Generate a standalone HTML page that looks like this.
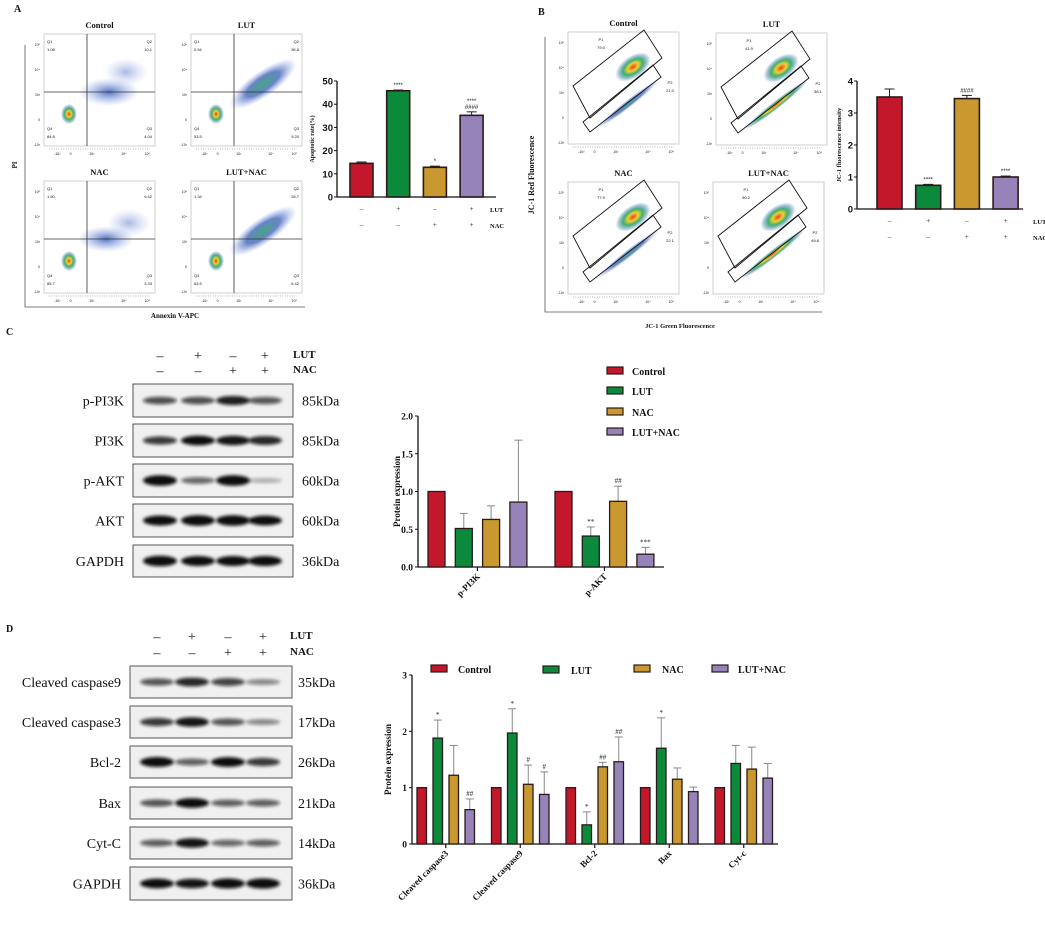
<!DOCTYPE html>
<html><head><meta charset="utf-8"><style>
html,body{margin:0;padding:0;background:#fff;}
svg{display:block;font-family:"Liberation Serif",serif;}
.sans{font-family:"Liberation Sans",sans-serif;}
</style></head><body>
<svg id="fig" width="1045" height="928" viewBox="0 0 1045 928" xmlns="http://www.w3.org/2000/svg">
<defs>
<filter id="blur2" x="-50%" y="-50%" width="200%" height="200%"><feGaussianBlur stdDeviation="1.6"/></filter>
<radialGradient id="hot"><stop offset="0" stop-color="#e8402a"/><stop offset="0.3" stop-color="#f0d030"/><stop offset="0.55" stop-color="#40b070"/><stop offset="1" stop-color="#3060c0" stop-opacity="0"/></radialGradient>
<radialGradient id="cloud"><stop offset="0" stop-color="#2a50b0" stop-opacity="0.8"/><stop offset="1" stop-color="#7090e0" stop-opacity="0"/></radialGradient>
<radialGradient id="cloudg"><stop offset="0" stop-color="#30a070" stop-opacity="0.9"/><stop offset="0.5" stop-color="#2a50b0" stop-opacity="0.7"/><stop offset="1" stop-color="#7090e0" stop-opacity="0"/></radialGradient>
</defs>
<g id="root"></g>
</svg>
<script>
// ---------- data ----------
var groups = ["Control","LUT","NAC","LUT+NAC"];
var colors = ["#c3172b","#0b8a3b","#c9982f","#9583b9"];
var apoptosisValues = [14.5, 45.8, 12.8, 35.2];
var apoptosisErr = [0.6, 0.3, 0.5, 1.5];
var apoptosisSig = ["","****","*","****\n####"];
var apoptosisTicks = [0,10,20,30,40,50];
var jc1Values = [3.5, 0.74, 3.45, 1.0];
var jc1Err = [0.25, 0.03, 0.1, 0.03];
var jc1Sig = ["","****","####","****"];
var jc1Ticks = [0,1,2,3,4];
var lutSigns = ["–","+","–","+"];
var nacSigns = ["–","–","+","+"];
var pi3kCats = ["p-PI3K","p-AKT"];
var pi3kValues = [[1,0.51,0.63,0.86],[1,0.41,0.87,0.17]];
var pi3kErr = [[0,0.20,0.18,0.82],[0,0.12,0.20,0.09]];
var pi3kSig = [["","","",""],["","**","##","***"]];
var pi3kTicks = [0,0.5,1.0,1.5,2.0];
var apoCats = ["Cleaved caspase3","Cleaved caspase9","Bcl-2","Bax","Cyt-c"];
var apoValues = [[1,1.88,1.22,0.61],[1,1.97,1.06,0.88],[1,0.34,1.37,1.46],[1,1.70,1.15,0.93],[1,1.43,1.33,1.17]];
var apoErr = [[0,0.32,0.53,0.19],[0,0.43,0.34,0.40],[0,0.23,0.08,0.44],[0,0.54,0.20,0.08],[0,0.32,0.39,0.26]];
var apoSig = [["","*","","##"],["","*","#","#"],["","*","##","##"],["","*","",""],["","","",""]];
var apoTicks = [0,1,2,3];

var NS="http://www.w3.org/2000/svg";
var root=document.getElementById("root");
function el(tag,attrs,parent,text){var e=document.createElementNS(NS,tag);for(var k in attrs)e.setAttribute(k,attrs[k]);if(text!==undefined)e.textContent=text;(parent||root).appendChild(e);return e;}
function txt(x,y,s,size,opt,parent){opt=opt||{};var a={x:x,y:y,"font-size":size,fill:opt.fill||"#111"};if(opt.anchor)a["text-anchor"]=opt.anchor;if(opt.bold)a["font-weight"]="bold";if(opt.cls)a["class"]=opt.cls;if(opt.tr)a.transform=opt.tr;return el("text",a,parent,s);}

[["A",14,12],["B",538,15],["C",6,335],["D",6,632]].forEach(function(p){var t=txt(p[1],p[2],p[0],10,{bold:true});

});

// ---------- flow plots ----------
function flowPlot(x,y,title,kind,labels,variant){
  var g=el("g",{});
  
  
  var w=111,h=112;
  txt(x+w/2,y-6,title,8.5,{anchor:"middle",bold:true},g);
  el("rect",{x:x,y:y,width:w,height:h,fill:"#fff",stroke:"#bbb","stroke-width":0.7},g);
  var yt=["10⁵","10⁴","10³","0","-10³"];
  yt.forEach(function(s,i){txt(x-4,y+12+i*25,s,3.5,{anchor:"end",cls:"sans"},g);});
  var xt=["-10³","0","10³","10⁴","10⁵"];var xs=[0.12,0.24,0.43,0.72,0.93];
  xt.forEach(function(s,i){txt(x+w*xs[i],y+h+9,s,3.5,{anchor:"middle",cls:"sans"},g);});
  el("line",{x1:x+5,y1:y+h+3,x2:x+w-5,y2:y+h+3,stroke:"#444","stroke-width":0.6,"stroke-dasharray":"0.8 1.6"},g);
  if(kind==="annexin"){
    var cx=x+43,cy=y+58;
    if(variant===0){el("ellipse",{cx:x+65,cy:y+58,rx:30,ry:14,fill:"url(#cloud)"},g);el("ellipse",{cx:x+82,cy:y+38,rx:22,ry:14,fill:"url(#cloud)",opacity:0.5},g);}
    if(variant===1||variant===3){el("ellipse",{cx:x+72,cy:y+50,rx:40,ry:13,fill:"url(#cloudg)",transform:"rotate(-35 "+(x+72)+" "+(y+50)+")"},g);}
    if(variant===2){el("ellipse",{cx:x+62,cy:y+58,rx:28,ry:13,fill:"url(#cloud)"},g);el("ellipse",{cx:x+85,cy:y+42,rx:22,ry:14,fill:"url(#cloud)",opacity:0.5},g);}
    el("ellipse",{cx:x+25,cy:y+80,rx:8,ry:10,fill:"url(#hot)"},g);
    el("line",{x1:cx,y1:y,x2:cx,y2:y+h,stroke:"#333","stroke-width":0.8},g);
    el("line",{x1:x,y1:cy,x2:x+w,y2:cy,stroke:"#333","stroke-width":0.8},g);
    txt(x+3,y+9,"Q1",4,{cls:"sans"},g);txt(x+3,y+17,labels[0],4,{cls:"sans"},g);
    txt(x+w-3,y+9,"Q2",4,{anchor:"end",cls:"sans"},g);txt(x+w-3,y+17,labels[1],4,{anchor:"end",cls:"sans"},g);
    txt(x+3,y+96,"Q4",4,{cls:"sans"},g);txt(x+3,y+104,labels[3],4,{cls:"sans"},g);
    txt(x+w-3,y+96,"Q3",4,{anchor:"end",cls:"sans"},g);txt(x+w-3,y+104,labels[2],4,{anchor:"end",cls:"sans"},g);
  } else {
    var hx=x+65,hy=y+35;
    el("ellipse",{cx:hx,cy:hy,rx:20,ry:11,fill:"url(#hot)",transform:"rotate(-35 "+hx+" "+hy+")"},g);
    el("ellipse",{cx:x+60,cy:y+72,rx:40,ry:4,fill:(variant%2?"url(#hot)":"url(#cloudg)"),transform:"rotate(-38 "+(x+60)+" "+(y+72)+")"},g);
    var p1=[[x+5,y+54],[x+76,y-2],[x+94,y+26],[x+22,y+86]];
    var p2=[[x+15,y+90],[x+85,y+33],[x+93,y+45],[x+22,y+100]];
    el("polygon",{points:p1.map(function(p){return p.join(",");}).join(" "),fill:"none",stroke:"#111","stroke-width":0.9},g);
    el("polygon",{points:p2.map(function(p){return p.join(",");}).join(" "),fill:"none",stroke:"#111","stroke-width":0.9},g);
    txt(x+33,y+9,"P1",4,{anchor:"middle",cls:"sans"},g);txt(x+33,y+17,labels[0],4,{anchor:"middle",cls:"sans"},g);
    txt(x+102,y+52,"P2",4,{anchor:"middle",cls:"sans"},g);txt(x+102,y+60,labels[1],4,{anchor:"middle",cls:"sans"},g);
  }
}
flowPlot(44,34,"Control","annexin",["1.08","10.1","4.04","84.8"],0);
flowPlot(191,34,"LUT","annexin",["0.54","36.8","9.20","53.5"],1);
flowPlot(44,181,"NAC","annexin",["1.50","9.42","3.33","85.7"],2);
flowPlot(191,181,"LUT+NAC","annexin",["1.34","28.7","6.42","63.5"],3);
el("polyline",{points:"25,45 25,307 305,307",fill:"none",stroke:"#555","stroke-width":0.8});
var t=txt(17,165,"PI",7,{bold:true,anchor:"middle",tr:"rotate(-90 17 165)"});

t=txt(175,318,"Annexin V-APC",7,{bold:true,anchor:"middle"});


flowPlot(568,32,"Control","jc1",["79.0","21.0"],0);
flowPlot(716,33,"LUT","jc1",["41.9","58.1"],1);
flowPlot(568,182,"NAC","jc1",["77.9","22.1"],0);
flowPlot(713,182,"LUT+NAC","jc1",["50.2","49.8"],1);
el("polyline",{points:"545,37 545,312 822,312",fill:"none",stroke:"#555","stroke-width":0.8});
t=txt(534,175,"JC-1 Red Fluorescence",8,{bold:true,anchor:"middle",tr:"rotate(-90 534 175)"});

t=txt(680,328,"JC-1 Green Fluorescence",6.5,{bold:true,anchor:"middle"});


// ---------- simple 4-bar charts ----------
function simpleBar(o){
  var g=el("g",{});
  
  
  var max=o.ticks[o.ticks.length-1];
  function Y(v){return o.y0-(o.y0-o.yTop)*v/max;}
  el("line",{x1:o.ax,y1:o.yTop,x2:o.ax,y2:o.y0,stroke:"#111","stroke-width":1.3},g);
  el("line",{x1:o.ax,y1:o.y0,x2:o.xEnd,y2:o.y0,stroke:"#111","stroke-width":1.3},g);
  o.ticks.forEach(function(tv){var yy=Y(tv);el("line",{x1:o.ax-3,y1:yy,x2:o.ax,y2:yy,stroke:"#111","stroke-width":1},g);
    txt(o.ax-4,yy+3.5,String(tv),o.tickSize,{anchor:"end",cls:"sans",bold:true},g);});
  o.values.forEach(function(v,i){
    var bx=o.bx0+i*o.step;
    var top=Y(v+o.err[i]);
    el("line",{x1:bx+o.bw/2,y1:Y(v),x2:bx+o.bw/2,y2:top,stroke:"#222","stroke-width":1},g);
    el("line",{x1:bx+o.bw/2-5,y1:top,x2:bx+o.bw/2+5,y2:top,stroke:"#222","stroke-width":1},g);
    var r=el("rect",{x:bx,y:Y(v),width:o.bw,height:o.y0-Y(v),fill:colors[i],stroke:"#2a1a1a","stroke-width":1.6},g);
    
    
    var lines=o.sig[i].split("\n");
    lines.forEach(function(s,k){if(s)txt(bx+o.bw/2,top-3-(lines.length-1-k)*6,s,6,{anchor:"middle",cls:"sans"},g);});
    txt(bx+o.bw/2,o.rowLut,lutSigns[i],7,{anchor:"middle"},g);
    txt(bx+o.bw/2,o.rowNac,nacSigns[i],7,{anchor:"middle"},g);
  });
  txt(o.lblX,o.rowLut+1,"LUT",6.5,{bold:true},g);
  txt(o.lblX,o.rowNac+1,"NAC",6.5,{bold:true},g);
  txt(o.yLabX,(o.y0+o.yTop)/2,o.yLabel,o.yLabSize,{anchor:"middle",bold:true,tr:"rotate(-90 "+o.yLabX+" "+((o.y0+o.yTop)/2)+")"},g);
}
simpleBar({name:"apoptosis-rate-chart",ax:337,y0:197,yTop:81,xEnd:496,bx0:350,step:36.7,bw:23,values:apoptosisValues,err:apoptosisErr,sig:apoptosisSig,ticks:apoptosisTicks,tickSize:9.5,rowLut:211,rowNac:227,lblX:490,yLabX:314,yLabel:"Apoptotic rate(%)",yLabSize:6});
simpleBar({name:"jc1-intensity-chart",ax:857,y0:209,yTop:81,xEnd:1023,bx0:877,step:38.7,bw:25,values:jc1Values,err:jc1Err,sig:jc1Sig,ticks:jc1Ticks,tickSize:9.5,rowLut:223,rowNac:239,lblX:1033,yLabX:841,yLabel:"JC-1 fluorescence intensity",yLabSize:6.5});

// ---------- grouped charts ----------
function groupedBar(o){
  var g=el("g",{});
  
  
  var max=o.ticks[o.ticks.length-1];
  function Y(v){return o.y0-(o.y0-o.yTop)*v/max;}
  el("line",{x1:o.ax,y1:o.yTop,x2:o.ax,y2:o.y0,stroke:"#111","stroke-width":1.3},g);
  el("line",{x1:o.ax,y1:o.y0,x2:o.xEnd,y2:o.y0,stroke:"#111","stroke-width":1.3},g);
  o.ticks.forEach(function(tv){var yy=Y(tv);el("line",{x1:o.ax-3,y1:yy,x2:o.ax,y2:yy,stroke:"#111","stroke-width":1},g);
    txt(o.ax-5,yy+3.5,o.fmt(tv),9.5,{anchor:"end",bold:true},g);});
  o.cats.forEach(function(c,ci){
    var gx=o.gx0+ci*o.gstep;
    o.values[ci].forEach(function(v,i){
      var bx=gx+i*o.step;var e=o.err[ci][i];
      if(e>0){var top=Y(v+e);
        el("line",{x1:bx+o.bw/2,y1:Y(v),x2:bx+o.bw/2,y2:top,stroke:"#888","stroke-width":1},g);
        el("line",{x1:bx+o.bw/2-4,y1:top,x2:bx+o.bw/2+4,y2:top,stroke:"#888","stroke-width":1},g);}
      var r=el("rect",{x:bx,y:Y(v),width:o.bw,height:o.y0-Y(v),fill:colors[i],stroke:"#2a1a1a","stroke-width":1.3},g);
      
      
      var s=o.sig[ci][i];if(s)txt(bx+o.bw/2,Y(v+e)-3,s,7,{anchor:"middle"},g);
    });
    var cx=gx+(3*o.step+o.bw)/2;
    el("line",{x1:cx,y1:o.y0,x2:cx,y2:o.y0+4,stroke:"#111","stroke-width":1.2},g);
    txt(cx+3,o.y0+10,c,o.catSize,{anchor:"end",bold:true,tr:"rotate(-45 "+(cx+3)+" "+(o.y0+10)+")"},g);
  });
  var ym=(o.y0+o.yTop)/2;
  txt(o.yLabX,ym,"Protein expression",9,{anchor:"middle",bold:true,tr:"rotate(-90 "+o.yLabX+" "+ym+")"},g);
  groups.forEach(function(gn,i){
    var L=o.legend[i];
    var lg=el("g",{},g);
    
    
    el("rect",{x:L[0],y:L[1]-5,width:16,height:7,fill:colors[i],stroke:"#2a1a1a","stroke-width":1.2},lg);
    txt(L[2],L[1]+3,gn,10,{bold:true},lg);
  });
}
groupedBar({name:"pi3k-akt-chart",ax:418,y0:567,yTop:416,xEnd:664,gx0:428,gstep:127,step:27.3,bw:17,cats:pi3kCats,values:pi3kValues,err:pi3kErr,sig:pi3kSig,ticks:pi3kTicks,fmt:function(v){return v.toFixed(1);},yLabX:400,catSize:9,
  legend:[[607,372,632],[607,392,632],[607,413,632],[607,433,632]]});
groupedBar({name:"apoptosis-protein-chart",ax:412,y0:844,yTop:675,xEnd:778,gx0:417,gstep:74.5,step:16,bw:9.5,cats:apoCats,values:apoValues,err:apoErr,sig:apoSig,ticks:apoTicks,fmt:function(v){return String(v);},yLabX:391,catSize:9,
  legend:[[431,670,458],[543,671,571],[634,670,662],[712,670,738]]});

// ---------- western blots ----------
function blot(o){
  var g=el("g",{});
  
  
  o.lanes.forEach(function(lx,i){txt(lx,o.lutY,lutSigns[i],14,{anchor:"middle"},g);txt(lx,o.nacY,nacSigns[i],14,{anchor:"middle"},g);});
  txt(o.tagX,o.lutY-2,"LUT",11,{bold:true},g);txt(o.tagX,o.nacY-2,"NAC",11,{bold:true},g);
  o.rows.forEach(function(r){
    var rg=el("g",{},g);
    
    
    var h=r[2];var y=r[1];
    el("rect",{x:o.x0,y:y,width:o.x1-o.x0,height:h,fill:"#f0f0f0",stroke:"#555","stroke-width":1},rg);
    r[4].forEach(function(int,i){
      if(int<=0)return;
      var op=Math.min(1,0.25+int*0.8);var ry=2+int*3;
      el("ellipse",{cx:o.lanes[i],cy:y+h/2,rx:17,ry:ry,fill:"#111","fill-opacity":op,filter:"url(#blur2)"},rg);
    });
    txt(o.labX,y+h/2+5,r[0],14,{anchor:"end"},rg);
    txt(o.kdaX,y+h/2+5,r[3],14,{},rg);
  });
}
blot({name:"western-blot-pi3k",x0:133,x1:293,lanes:[160,198,233,265],lutY:360,nacY:375,tagX:293,labX:124,kdaX:302,
  rows:[["p-PI3K",384,33,"85kDa",[0.6,0.6,0.85,0.55]],["PI3K",424,33,"85kDa",[0.7,0.95,0.9,0.8]],["p-AKT",464,33,"60kDa",[1.1,0.45,1.1,0.1]],["AKT",504,33,"60kDa",[1.0,1.1,1.1,0.95]],["GAPDH",545,32,"36kDa",[1.1,1.0,1.0,1.0]]]});
blot({name:"western-blot-apoptosis",x0:130,x1:292,lanes:[157,192,228,263],lutY:641,nacY:657,tagX:290,labX:121,kdaX:298,
  rows:[["Cleaved caspase9",666,32,"35kDa",[0.55,0.8,0.65,0.3]],["Cleaved caspase3",706,32,"17kDa",[0.7,0.9,0.55,0.3]],["Bcl-2",746,32,"26kDa",[1.0,0.5,0.95,0.7]],["Bax",787,32,"21kDa",[0.55,0.95,0.5,0.5]],["Cyt-C",827,32,"14kDa",[0.5,0.9,0.45,0.5]],["GAPDH",867,33,"36kDa",[0.95,0.9,1.0,1.05]]]});
</script>
</body></html>
